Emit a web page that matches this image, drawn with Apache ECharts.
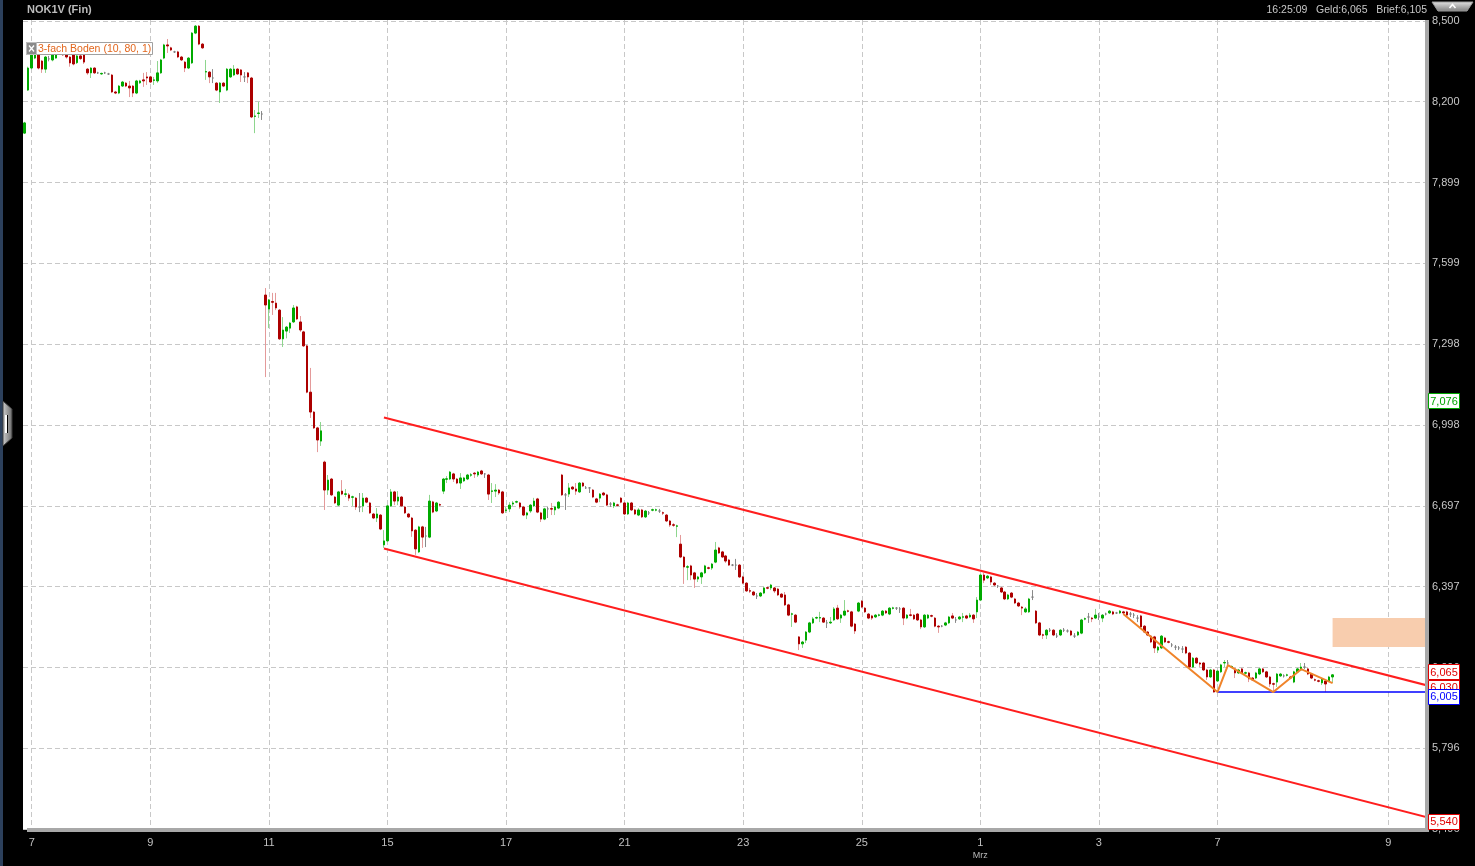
<!DOCTYPE html>
<html><head><meta charset="utf-8">
<script src="https://cdn.jsdelivr.net/npm/echarts@6/dist/echarts.min.js"></script>
<style>html,body{margin:0;padding:0;background:#000;overflow:hidden}#c{width:1475px;height:866px}</style>
</head><body><div id="c"></div>
<script>
// ---- candle data: [open, close, low, high], 30-minute bars, one array per session ----
const feb04 = [[8.083,8.121,8.080,8.125],[8.243,8.325,8.240,8.330]];
const feb07 = [[8.325,8.381,8.320,8.385],[8.362,8.400,8.358,8.410],[8.374,8.325,8.320,8.380],[8.351,8.321,8.307,8.355],[8.321,8.366,8.307,8.370],[8.359,8.359,8.350,8.370],[8.355,8.374,8.350,8.380],[8.362,8.385,8.360,8.390],[8.381,8.403,8.378,8.410],[8.403,8.374,8.370,8.405],[8.374,8.366,8.360,8.378],[8.366,8.344,8.330,8.370],[8.381,8.340,8.335,8.385],[8.345,8.370,8.340,8.375],[8.370,8.360,8.355,8.375],[8.381,8.347,8.340,8.385],[8.321,8.307,8.300,8.325]];
const feb08 = [[8.307,8.325,8.288,8.328],[8.325,8.307,8.303,8.328],[8.307,8.307,8.303,8.311],[8.303,8.305,8.300,8.308],[8.307,8.307,8.303,8.311],[8.303,8.303,8.299,8.307],[8.299,8.236,8.232,8.303],[8.236,8.232,8.228,8.240],[8.232,8.258,8.228,8.262],[8.258,8.273,8.255,8.277],[8.269,8.258,8.254,8.273],[8.258,8.251,8.217,8.277],[8.258,8.232,8.217,8.262],[8.232,8.277,8.228,8.281],[8.270,8.277,8.266,8.281],[8.281,8.277,8.255,8.307],[8.292,8.288,8.262,8.310]];
const feb09 = [[8.292,8.273,8.269,8.296],[8.279,8.281,8.262,8.292],[8.277,8.307,8.270,8.351],[8.307,8.355,8.303,8.359],[8.362,8.411,8.358,8.415],[8.411,8.407,8.381,8.433],[8.400,8.392,8.388,8.404],[8.385,8.385,8.381,8.389],[8.385,8.366,8.362,8.389],[8.366,8.355,8.351,8.370],[8.347,8.325,8.310,8.351],[8.325,8.362,8.321,8.366],[8.344,8.455,8.340,8.459],[8.455,8.481,8.451,8.485],[8.481,8.414,8.410,8.485],[8.414,8.400,8.396,8.418],[8.310,8.312,8.281,8.355]];
const feb10 = [[8.310,8.292,8.269,8.314],[8.288,8.288,8.269,8.321],[8.269,8.243,8.239,8.273],[8.236,8.269,8.195,8.273],[8.269,8.258,8.254,8.273],[8.243,8.321,8.239,8.325],[8.292,8.321,8.288,8.325],[8.299,8.321,8.295,8.336],[8.321,8.303,8.299,8.325],[8.318,8.299,8.273,8.321],[8.292,8.292,8.273,8.310],[8.307,8.292,8.269,8.310],[8.288,8.143,8.139,8.292],[8.145,8.147,8.083,8.169],[8.156,8.158,8.139,8.199],[8.154,8.154,8.132,8.165],[7.481,7.444,7.176,7.507]];
const feb11 = [[7.429,7.463,7.358,7.466],[7.457,7.454,7.407,7.489],[7.451,7.433,7.425,7.489],[7.425,7.318,7.314,7.429],[7.318,7.351,7.288,7.399],[7.347,7.362,7.320,7.366],[7.358,7.377,7.340,7.381],[7.381,7.433,7.377,7.444],[7.437,7.392,7.388,7.441],[7.381,7.351,7.344,7.403],[7.344,7.292,7.288,7.348],[7.292,7.120,7.116,7.296],[7.120,7.046,7.024,7.210],[7.046,6.987,6.983,7.050],[6.987,6.942,6.897,6.991],[6.938,6.976,6.920,7.009],[6.860,6.756,6.682,6.865]];
const feb14 = [[6.756,6.793,6.738,6.812],[6.797,6.738,6.734,6.801],[6.730,6.708,6.704,6.734],[6.700,6.749,6.696,6.753],[6.752,6.741,6.737,6.793],[6.740,6.742,6.730,6.760],[6.738,6.726,6.715,6.745],[6.729,6.731,6.697,6.735],[6.726,6.693,6.682,6.730],[6.693,6.693,6.674,6.745],[6.697,6.726,6.674,6.745],[6.726,6.711,6.707,6.730],[6.708,6.671,6.667,6.712],[6.667,6.652,6.648,6.671],[6.652,6.667,6.637,6.689],[6.663,6.611,6.607,6.667],[6.552,6.567,6.541,6.607]];
const feb15 = [[6.567,6.697,6.563,6.701],[6.697,6.749,6.693,6.760],[6.749,6.715,6.700,6.753],[6.715,6.730,6.700,6.752],[6.730,6.697,6.693,6.734],[6.693,6.671,6.667,6.697],[6.667,6.656,6.652,6.671],[6.652,6.604,6.582,6.656],[6.607,6.537,6.515,6.611],[6.526,6.619,6.522,6.623],[6.619,6.581,6.541,6.623],[6.585,6.585,6.544,6.619],[6.581,6.715,6.577,6.738],[6.712,6.674,6.670,6.716],[6.678,6.708,6.674,6.712],[6.702,6.700,6.696,6.706],[6.752,6.797,6.741,6.801]];
const feb16 = [[6.796,6.798,6.782,6.808],[6.797,6.823,6.793,6.827],[6.816,6.797,6.786,6.820],[6.797,6.782,6.778,6.801],[6.782,6.801,6.760,6.819],[6.790,6.801,6.786,6.805],[6.797,6.812,6.793,6.816],[6.811,6.813,6.805,6.819],[6.819,6.816,6.801,6.823],[6.812,6.823,6.805,6.827],[6.827,6.816,6.812,6.831],[6.816,6.816,6.801,6.819],[6.812,6.741,6.719,6.816],[6.751,6.753,6.708,6.782],[6.752,6.756,6.730,6.778],[6.756,6.745,6.738,6.760],[6.749,6.671,6.667,6.753]];
const feb17 = [[6.680,6.682,6.671,6.693],[6.686,6.700,6.674,6.711],[6.704,6.708,6.696,6.715],[6.711,6.713,6.707,6.717],[6.708,6.693,6.686,6.712],[6.693,6.663,6.659,6.697],[6.663,6.671,6.648,6.675],[6.678,6.700,6.671,6.704],[6.697,6.715,6.693,6.727],[6.723,6.674,6.670,6.727],[6.671,6.648,6.637,6.675],[6.648,6.686,6.644,6.690],[6.686,6.686,6.652,6.693],[6.687,6.685,6.663,6.708],[6.682,6.693,6.663,6.697],[6.689,6.711,6.685,6.715],[6.812,6.738,6.734,6.816]];
const feb18 = [[6.738,6.738,6.682,6.745],[6.741,6.764,6.730,6.782],[6.767,6.760,6.756,6.771],[6.760,6.752,6.738,6.782],[6.749,6.782,6.745,6.786],[6.782,6.771,6.767,6.786],[6.764,6.764,6.760,6.771],[6.764,6.764,6.745,6.767],[6.756,6.730,6.726,6.760],[6.723,6.711,6.707,6.727],[6.726,6.741,6.711,6.745],[6.745,6.738,6.734,6.749],[6.738,6.700,6.696,6.742],[6.704,6.704,6.693,6.711],[6.697,6.708,6.689,6.712],[6.701,6.699,6.695,6.705],[6.726,6.711,6.707,6.730]];
const feb21 = [[6.708,6.667,6.663,6.712],[6.667,6.708,6.663,6.712],[6.708,6.682,6.678,6.712],[6.682,6.667,6.663,6.686],[6.663,6.682,6.659,6.689],[6.682,6.656,6.652,6.686],[6.656,6.678,6.652,6.682],[6.671,6.671,6.663,6.678],[6.681,6.683,6.677,6.687],[6.681,6.683,6.677,6.687],[6.678,6.678,6.671,6.686],[6.672,6.670,6.663,6.676],[6.663,6.641,6.637,6.667],[6.641,6.626,6.619,6.645],[6.627,6.625,6.619,6.633],[6.621,6.623,6.581,6.627],[6.555,6.507,6.503,6.589]];
const feb22 = [[6.507,6.470,6.407,6.511],[6.469,6.471,6.421,6.477],[6.474,6.440,6.421,6.478],[6.448,6.425,6.392,6.452],[6.425,6.433,6.414,6.437],[6.433,6.448,6.407,6.452],[6.448,6.474,6.444,6.478],[6.467,6.465,6.461,6.471],[6.466,6.481,6.459,6.485],[6.488,6.533,6.484,6.563],[6.541,6.522,6.518,6.545],[6.526,6.507,6.503,6.530],[6.511,6.492,6.485,6.515],[6.496,6.477,6.474,6.500],[6.477,6.477,6.473,6.481],[6.477,6.477,6.459,6.500],[6.477,6.433,6.429,6.481]];
const feb23 = [[6.433,6.410,6.406,6.437],[6.410,6.381,6.377,6.414],[6.382,6.380,6.373,6.392],[6.377,6.366,6.362,6.381],[6.362,6.362,6.351,6.373],[6.362,6.373,6.358,6.377],[6.373,6.392,6.369,6.396],[6.393,6.391,6.387,6.397],[6.392,6.403,6.384,6.407],[6.392,6.381,6.373,6.396],[6.388,6.366,6.362,6.392],[6.369,6.358,6.355,6.373],[6.366,6.329,6.325,6.377],[6.329,6.291,6.287,6.333],[6.294,6.296,6.247,6.300],[6.291,6.265,6.261,6.295],[6.210,6.184,6.161,6.213]];
const feb24 = [[6.184,6.191,6.169,6.195],[6.198,6.228,6.187,6.232],[6.228,6.262,6.224,6.266],[6.262,6.277,6.258,6.284],[6.280,6.282,6.276,6.286],[6.280,6.282,6.265,6.303],[6.280,6.265,6.262,6.284],[6.262,6.262,6.243,6.273],[6.262,6.265,6.258,6.284],[6.273,6.314,6.269,6.321],[6.317,6.277,6.273,6.329],[6.280,6.291,6.262,6.295],[6.291,6.306,6.287,6.347],[6.307,6.305,6.301,6.311],[6.303,6.250,6.246,6.307],[6.258,6.232,6.221,6.262],[6.306,6.336,6.302,6.340]];
const feb25 = [[6.343,6.321,6.317,6.347],[6.317,6.303,6.299,6.321],[6.295,6.280,6.276,6.299],[6.288,6.280,6.273,6.292],[6.284,6.291,6.280,6.295],[6.290,6.292,6.286,6.296],[6.291,6.306,6.287,6.310],[6.306,6.299,6.295,6.310],[6.295,6.317,6.291,6.321],[6.316,6.318,6.312,6.322],[6.317,6.317,6.310,6.321],[6.314,6.314,6.299,6.321],[6.317,6.280,6.254,6.321],[6.280,6.291,6.276,6.295],[6.292,6.290,6.286,6.314],[6.291,6.277,6.273,6.295],[6.295,6.273,6.269,6.299]];
const feb28 = [[6.273,6.247,6.239,6.277],[6.247,6.291,6.243,6.295],[6.280,6.291,6.276,6.295],[6.289,6.287,6.283,6.293],[6.280,6.250,6.246,6.284],[6.250,6.247,6.225,6.254],[6.250,6.250,6.246,6.254],[6.254,6.262,6.250,6.266],[6.262,6.284,6.258,6.288],[6.288,6.280,6.276,6.299],[6.273,6.273,6.262,6.284],[6.277,6.284,6.273,6.288],[6.283,6.285,6.265,6.299],[6.288,6.280,6.276,6.292],[6.284,6.291,6.280,6.299],[6.291,6.277,6.262,6.295],[6.303,6.347,6.280,6.358]];
const mar01 = [[6.347,6.440,6.343,6.444],[6.440,6.421,6.410,6.448],[6.429,6.436,6.425,6.440],[6.433,6.414,6.403,6.437],[6.410,6.403,6.399,6.414],[6.399,6.399,6.392,6.403],[6.392,6.377,6.373,6.396],[6.377,6.351,6.347,6.381],[6.351,6.366,6.347,6.370],[6.373,6.358,6.354,6.377],[6.351,6.336,6.332,6.355],[6.336,6.325,6.321,6.340],[6.321,6.317,6.291,6.325],[6.303,6.314,6.299,6.321],[6.303,6.351,6.299,6.355],[6.358,6.358,6.347,6.384],[6.306,6.262,6.258,6.310]];
const mar02 = [[6.262,6.217,6.213,6.266],[6.218,6.216,6.202,6.222],[6.217,6.235,6.202,6.239],[6.235,6.235,6.228,6.243],[6.235,6.217,6.213,6.239],[6.213,6.213,6.206,6.224],[6.217,6.235,6.213,6.239],[6.235,6.235,6.228,6.243],[6.232,6.232,6.226,6.238],[6.232,6.217,6.213,6.236],[6.213,6.213,6.206,6.224],[6.217,6.228,6.213,6.232],[6.224,6.273,6.220,6.277],[6.276,6.278,6.272,6.282],[6.284,6.284,6.262,6.299],[6.280,6.277,6.265,6.284],[6.280,6.291,6.276,6.314]];
const mar03 = [[6.284,6.284,6.273,6.299],[6.280,6.291,6.265,6.295],[6.295,6.295,6.290,6.300],[6.299,6.306,6.295,6.310],[6.303,6.295,6.291,6.307],[6.299,6.299,6.295,6.303],[6.299,6.306,6.295,6.310],[6.303,6.299,6.295,6.307],[6.303,6.291,6.287,6.307],[6.295,6.295,6.284,6.303],[6.291,6.291,6.280,6.299],[6.280,6.280,6.265,6.291],[6.288,6.247,6.243,6.292],[6.250,6.228,6.224,6.254],[6.228,6.217,6.213,6.232],[6.213,6.191,6.187,6.217],[6.210,6.169,6.150,6.214]];
const mar04 = [[6.161,6.172,6.150,6.176],[6.169,6.213,6.165,6.217],[6.206,6.191,6.187,6.210],[6.192,6.190,6.186,6.196],[6.180,6.180,6.172,6.187],[6.172,6.172,6.161,6.180],[6.169,6.169,6.161,6.176],[6.165,6.165,6.150,6.176],[6.172,6.150,6.146,6.176],[6.150,6.098,6.094,6.154],[6.098,6.131,6.094,6.135],[6.131,6.113,6.109,6.135],[6.113,6.109,6.098,6.117],[6.113,6.087,6.083,6.117],[6.087,6.061,6.050,6.091],[6.061,6.087,6.057,6.091],[6.087,6.005,6.003,6.091]];
const mar07 = [[6.046,6.083,6.042,6.087],[6.080,6.106,6.076,6.110],[6.113,6.115,6.098,6.124],[6.113,6.113,6.106,6.124],[6.098,6.100,6.094,6.104],[6.091,6.076,6.057,6.095],[6.076,6.087,6.072,6.091],[6.091,6.076,6.072,6.095],[6.075,6.077,6.071,6.081],[6.076,6.054,6.042,6.080],[6.057,6.050,6.046,6.061],[6.057,6.076,6.053,6.080],[6.072,6.091,6.068,6.095],[6.091,6.080,6.076,6.095],[6.080,6.061,6.057,6.084],[6.061,6.035,6.024,6.065],[6.036,6.034,6.005,6.040]];
const mar08 = [[6.042,6.072,6.024,6.076],[6.065,6.072,6.061,6.076],[6.065,6.065,6.059,6.071],[6.067,6.069,6.063,6.073],[6.061,6.057,6.053,6.065],[6.042,6.080,6.038,6.084],[6.080,6.091,6.076,6.095],[6.087,6.098,6.083,6.113],[6.098,6.098,6.091,6.113],[6.091,6.072,6.068,6.095],[6.072,6.057,6.053,6.076],[6.051,6.049,6.045,6.055],[6.047,6.045,6.041,6.051],[6.039,6.054,6.031,6.058],[6.046,6.035,6.005,6.050],[6.046,6.061,6.042,6.065],[6.061,6.069,6.039,6.072]];

// ---- axis / annotation data ----
const slotCount = 402;                       // bar slots shown incl. empty future
const dateLabels = ['7','9','11','15','17','21','23','25','1','3','7','9'];
const dateLabelSlots = [2,36,70,104,138,172,206,240,274,308,342,391];
const monthLabelSlot = 274, monthLabelText = 'Mrz';
const yTicks = [5.496,5.796,6.096,6.397,6.697,6.998,7.298,7.599,7.899,8.200,8.500];
const yMin = 5.4958, yMax = 8.5036;
const upperChannel = [[103,7.026],[402,6.030]];
const lowerChannel = [[103,6.539],[402,5.540]];
const supportLine = [[342,6.005],[402,6.005]];
const tripleBottom = [[315,6.295],[342,6.005],[345,6.105],[358,6.005],[366,6.090],[375,6.038]];
const targetZone = [[375,6.280,6.172]];
const tagValues = [7.076,6.030,6.065,6.005,5.540];
const instrument = 'NOK1V (Fin)';
const quoteTime = '16:25:09', bidPrice = 6.065, askPrice = 6.105;
const patternName = '3-fach Boden (10, 80, 1)';

// ---- styles ----
const tagStyles = [
  {c:'#00a400', dy:-3},{c:'#e00000', dy:2},{c:'#e00000', dy:-4},{c:'#0000ff', dy:4},{c:'#e00000', dy:4}];
const FONT = 'Liberation Sans, Arial, sans-serif';
const fmt = v => v.toFixed(3).replace('.', ',');

const sessions = [feb04,feb07,feb08,feb09,feb10,feb11,feb14,feb15,feb16,feb17,feb18,feb21,feb22,feb23,feb24,feb25,feb28,mar01,mar02,mar03,mar04,mar07,mar08];
const bars = [].concat(...sessions);
const cats = Array.from({length: slotCount}, (_, i) => 'b' + i);
const labelMap = {};
dateLabelSlots.forEach((s, i) => { labelMap[s] = dateLabels[i]; });
const showSlot = (i) => Object.prototype.hasOwnProperty.call(labelMap, i);

const chart = echarts.init(document.getElementById('c'), null, {renderer: 'canvas'});
chart.setOption({
  animation: false,
  backgroundColor: '#000',
  grid: {left: 23, top: 20, width: 1402, height: 809, show: true, backgroundColor: '#fff', borderWidth: 0, containLabel: false, outerBoundsMode: 'none'},
  xAxis: {
    type: 'category', data: cats, boundaryGap: true,
    axisLine: {show: false},
    axisTick: {show: false, alignWithLabel: true, interval: showSlot},
    axisLabel: {
      interval: showSlot, color: '#c0c0c0', fontSize: 11, fontFamily: FONT, margin: 8,
      formatter: (v, i) => i === monthLabelSlot ? labelMap[i] + '\n{m|' + monthLabelText + '}' : labelMap[i],
      rich: {m: {fontSize: 9, color: '#b8b8b8', fontFamily: FONT, lineHeight: 15}}
    },
    splitLine: {show: true, alignWithLabel: true, interval: showSlot, lineStyle: {color: '#c8c8c8', width: 1, type: [5, 3]}}
  },
  yAxis: {
    type: 'value', position: 'right', min: yMin, max: yMax,
    axisLine: {show: false},
    axisTick: {show: false, customValues: yTicks},
    axisLabel: {customValues: yTicks, formatter: v => fmt(v), color: '#c8c8c8', fontSize: 11, fontFamily: FONT, margin: 7},
    splitLine: {show: true, customValues: yTicks, lineStyle: {color: '#c8c8c8', width: 1, type: [5, 3]}}
  },
  series: [
    {type: 'custom', data: targetZone, z: 1, silent: true, encode: {x: 0, y: [1, 2]},
      renderItem: (params, api) => {
        const p1 = api.coord([api.value(0), api.value(1)]);
        const p2 = api.coord([api.value(0), api.value(2)]);
        const right = params.coordSys.x + params.coordSys.width;
        return {type: 'rect', shape: {x: p1[0], y: p1[1], width: right - p1[0], height: p2[1] - p1[1]}, style: {fill: '#f8cdae'}};
      }},
    {type: 'candlestick', data: bars.map(b => [b[0], b[1], b[2], b[3]]), barWidth: 1, z: 2, silent: true,
      itemStyle: {color: '#8ed68e', color0: '#e49a9a', borderColor: '#8ed68e', borderColor0: '#e49a9a', borderColorDoji: '#8a8a8a', borderWidth: 1}},
    {type: 'candlestick', data: bars.map(b => [b[0], b[1], Math.min(b[0], b[1]), Math.max(b[0], b[1])]), barWidth: 2, z: 3, silent: true,
      itemStyle: {color: '#00aa00', color0: '#ac0000', borderColor: '#00aa00', borderColor0: '#ac0000', borderColorDoji: '#808080', borderWidth: 1}},
    {type: 'line', data: upperChannel, symbol: 'none', z: 5, silent: true, lineStyle: {color: '#ff1e1e', width: 2}},
    {type: 'line', data: lowerChannel, symbol: 'none', z: 5, silent: true, lineStyle: {color: '#ff1e1e', width: 2}},
    {type: 'line', data: supportLine, symbol: 'none', z: 5, silent: true, lineStyle: {color: '#0000ff', width: 1.5}},
    {type: 'line', data: tripleBottom, symbol: 'none', z: 6, silent: true, lineStyle: {color: '#f0842a', width: 2}}
  ]
});

function txt(x, y, text, o) {
  return Object.assign({type: 'text', z: 120, silent: true,
    style: Object.assign({x: x, y: y, text: text, fill: '#c8c8c8', fontSize: 11, fontFamily: FONT,
      textAlign: 'left', textVerticalAlign: 'middle', align: 'left', verticalAlign: 'middle'}, o || {})});
}
const G = [];
G.push({type: 'rect', z: 100, silent: true, shape: {x: 0, y: 0, width: 3, height: 866}, style: {fill: '#2c405c'}});
G.push({type: 'polygon', z: 100, silent: true, shape: {points: [[3, 401], [12, 409], [12, 438], [3, 446]]},
  style: {fill: new echarts.graphic.LinearGradient(0, 0, 1, 0, [{offset: 0, color: '#d0d0d0'}, {offset: 1, color: '#6a6a6a'}]), stroke: '#3a3a3a', lineWidth: 1}});
G.push({type: 'rect', z: 101, silent: true, shape: {x: 5, y: 415, width: 2, height: 18}, style: {fill: '#ffffff'}});
G.push({type: 'rect', z: 101, silent: true, shape: {x: 7, y: 415, width: 1, height: 18}, style: {fill: '#000'}});
G.push({type: 'rect', z: 100, silent: true, shape: {x: 1425, y: 20, width: 4, height: 812}, style: {fill: '#a8a8a8'}});
G.push({type: 'rect', z: 100, silent: true, shape: {x: 27, y: 828, width: 1402, height: 4}, style: {fill: '#a8a8a8'}});
G.push(txt(27, 10, instrument, {fontWeight: 'bold', fontSize: 11, fill: '#bcbcbc'}));
G.push(txt(1427, 10, quoteTime + '   Geld:' + fmt(bidPrice) + '   Brief:' + fmt(askPrice), {textAlign: 'right', align: 'right', fill: '#c8c8c8', fontSize: 10.5}));
G.push({type: 'polygon', z: 100, silent: true, shape: {points: [[1432, 2], [1473, 2], [1467, 11], [1438, 11]]},
  style: {fill: new echarts.graphic.LinearGradient(0, 0, 0, 1, [{offset: 0, color: '#e4e4e4'}, {offset: 1, color: '#7c7c7c'}]), stroke: '#9a9a9a', lineWidth: 1}});
G.push({type: 'polyline', z: 101, silent: true, shape: {points: [[1449.5, 8], [1452.5, 4.5], [1455.5, 8]]}, style: {stroke: '#ffffff', lineWidth: 1.5, fill: null}});
// pattern label box
G.push({type: 'rect', z: 110, silent: true, shape: {x: 26.5, y: 42.5, width: 126, height: 12}, style: {fill: '#ffffff', stroke: '#a0a0a0', lineWidth: 1}});
G.push({type: 'rect', z: 111, silent: true, shape: {x: 26.5, y: 42.5, width: 10, height: 12}, style: {fill: '#8a8a8a', stroke: '#bdbdbd', lineWidth: 1}});
G.push({type: 'polyline', z: 112, silent: true, shape: {points: [[29, 45.5], [34, 51.5]]}, style: {stroke: '#fff', lineWidth: 1.3, fill: null}});
G.push({type: 'polyline', z: 112, silent: true, shape: {points: [[34, 45.5], [29, 51.5]]}, style: {stroke: '#fff', lineWidth: 1.3, fill: null}});
G.push(txt(38, 49, patternName, {fill: '#e2661c', fontSize: 10.5}));
// price tags on the right axis
tagValues.forEach((v, i) => {
  const st = tagStyles[i];
  const py = chart.convertToPixel({yAxisIndex: 0}, v) + st.dy;
  G.push({type: 'rect', z: 130 + i, silent: true, shape: {x: 1428.5, y: Math.round(py - 7.5) + 0.5, width: 31, height: 15},
    style: {fill: '#ffffff', stroke: st.c, lineWidth: 1}});
  const t = txt(1444, Math.round(py) + 0.5, fmt(v), {fill: st.c, textAlign: 'center', align: 'center', fontSize: 11});
  t.z = 130 + i;
  G.push(t);
});
chart.setOption({graphic: G});
</script></body></html>
